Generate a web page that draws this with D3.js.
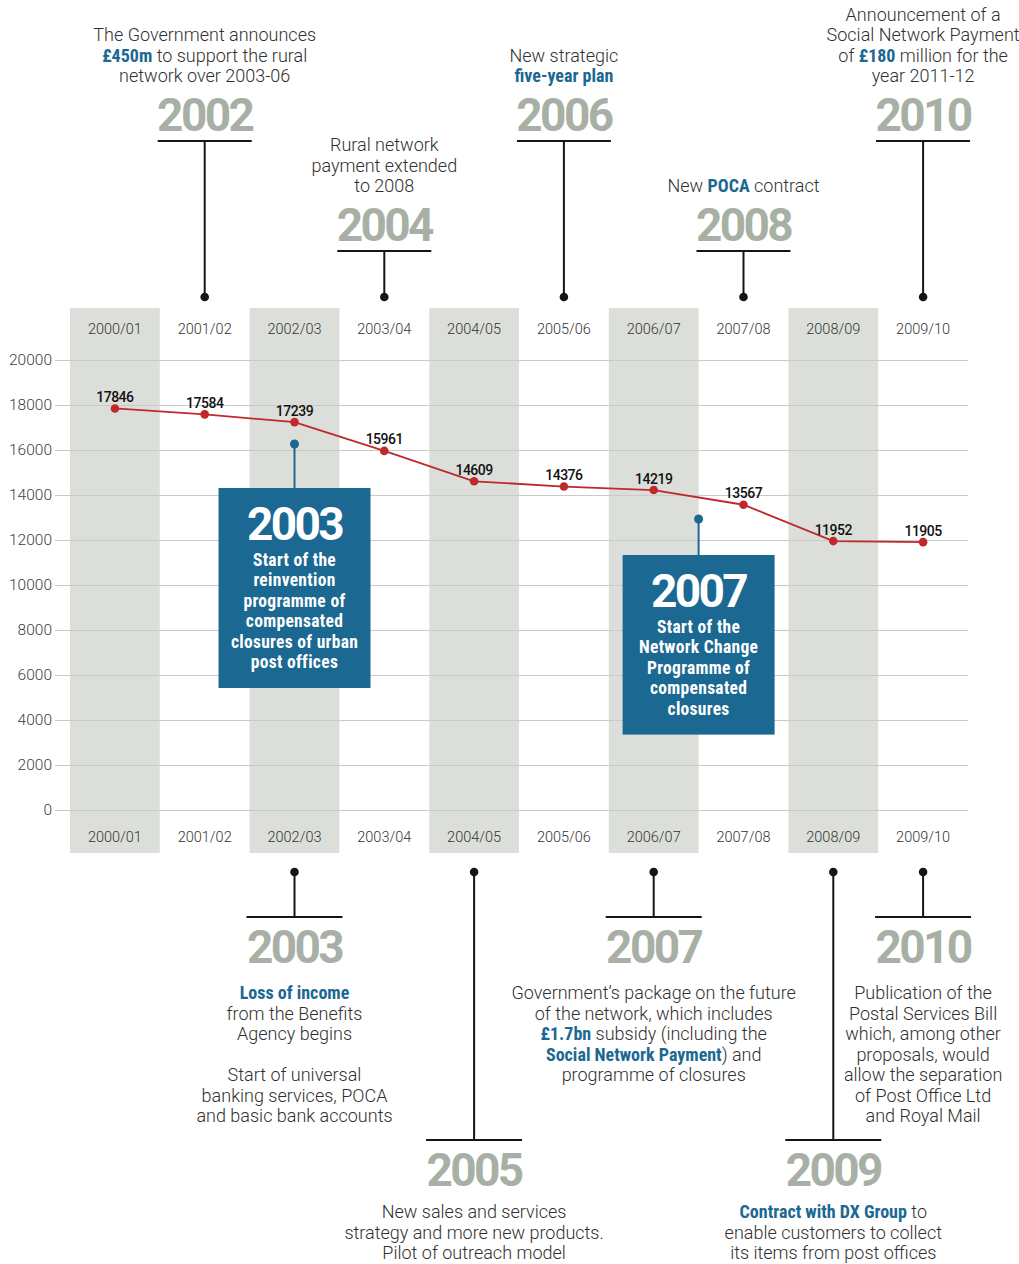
<!DOCTYPE html>
<html>
<head>
<meta charset="utf-8">
<script src="https://cdn.jsdelivr.net/npm/d3@7"></script>
<style>
  body { margin: 0; background: #fff; }
  svg { display: block; }
</style>
</head>
<body>
<svg id="chart" width="1019" height="1264"></svg>
<script>
// Number of post offices by financial year
const categories = ["2000/01", "2001/02", "2002/03", "2003/04", "2004/05",
                    "2005/06", "2006/07", "2007/08", "2008/09", "2009/10"];
const postOffices = [17846, 17584, 17239, 15961, 14609, 14376, 14219, 13567, 11952, 11905];
const yTickValues = [0, 2000, 4000, 6000, 8000, 10000, 12000, 14000, 16000, 18000, 20000];

// Timeline notes above the chart (text in **…** is highlighted)
const topYears = ["2002", "2004", "2006", "2008", "2010"];
const topAnchors = ["2001/02", "2003/04", "2005/06", "2007/08", "2009/10"];
const topTexts = [
  ["The Government announces", "**£450m** to support the rural", "network over 2003-06"],
  ["Rural network", "payment extended", "to 2008"],
  ["New strategic", "**five-year plan**"],
  ["New **POCA** contract"],
  ["Announcement of a", "Social Network Payment", "of **£180** million for the", "year 2011-12"]
];

// Timeline notes below the chart
const bottomYears = ["2003", "2005", "2007", "2009", "2010"];
const bottomAnchors = ["2002/03", "2004/05", "2006/07", "2008/09", "2009/10"];
const bottomTexts = [
  ["**Loss of income**", "from the Benefits", "Agency begins", "", "Start of universal",
   "banking services, POCA", "and basic bank accounts"],
  ["New sales and services", "strategy and more new products.", "Pilot of outreach model"],
  ["Government’s package on the future", "of the network, which includes",
   "**£1.7bn** subsidy (including the", "**Social Network Payment**) and", "programme of closures"],
  ["**Contract with DX Group** to", "enable customers to collect", "its items from post offices"],
  ["Publication of the", "Postal Services Bill", "which, among other", "proposals, would",
   "allow the separation", "of Post Office Ltd", "and Royal Mail"]
];

// Closure programmes shown as callout boxes on the chart
const boxYears = ["2003", "2007"];
const boxAnchors = ["2002/03", "2006/07"];
const boxTexts = [
  ["Start of the", "reinvention", "programme of", "compensated", "closures of urban", "post offices"],
  ["Start of the", "Network Change", "Programme of", "compensated", "closures"]
];

// ---- styling and layout ----
const BODY_FONT = "Roboto, 'Open Sans', sans-serif";
const COND_FONT = "'Roboto Condensed', 'Liberation Sans Narrow', 'DejaVu Sans Condensed', Roboto, sans-serif";
const BLUE = "#1b6892";
const TEXT = "#303030";
const YEAR_GREY = "#a8b0a5";
const BAND = "#dcdfd9";
const GRID = "#c9cbc8";
const RED = "#c0282b";
const INK = "#151515";

const svg = d3.select("#chart");

const x = d3.scaleBand().domain(categories).range([70, 968]).padding(0);
const y = d3.scaleLinear().domain([0, 20000]).range([810, 360]);
const cx = c => x(c) + x.bandwidth() / 2;

const bandTop = 308, bandBottom = 853;

// alternating shaded columns
svg.append("g")
  .selectAll("rect")
  .data(categories.filter((c, i) => i % 2 === 0))
  .join("rect")
  .attr("x", d => x(d))
  .attr("width", x.bandwidth())
  .attr("y", bandTop)
  .attr("height", bandBottom - bandTop)
  .attr("fill", BAND);

// y axis with gridlines
const yAxis = svg.append("g")
  .attr("transform", "translate(55,0)")
  .call(d3.axisLeft(y).tickValues(yTickValues).tickFormat(d3.format("d"))
        .tickSize(-(968 - 55)).tickPadding(3));
yAxis.select(".domain").remove();
yAxis.selectAll(".tick line").attr("stroke", GRID).attr("stroke-width", 1);
yAxis.selectAll(".tick text")
  .attr("fill", "#404040")
  .attr("font-family", BODY_FONT)
  .attr("font-size", 15.5)
  .attr("font-weight", 300);

// category labels above and below
function styleCatAxis(g) {
  g.select(".domain").remove();
  g.selectAll(".tick line").remove();
  g.selectAll(".tick text")
    .attr("dy", 0)
    .attr("y", 0)
    .attr("fill", "#333")
    .attr("font-family", BODY_FONT)
    .attr("font-size", 14.5)
    .attr("font-weight", 300);
}
svg.append("g").attr("transform", "translate(0,334)")
  .call(d3.axisTop(x).tickSize(0).tickPadding(0)).call(styleCatAxis);
svg.append("g").attr("transform", "translate(0,842)")
  .call(d3.axisBottom(x).tickSize(0).tickPadding(0)).call(styleCatAxis);

// series
const series = categories.map((c, i) => ({ cat: c, v: postOffices[i] }));
svg.append("path")
  .datum(series)
  .attr("fill", "none")
  .attr("stroke", RED)
  .attr("stroke-width", 1.8)
  .attr("d", d3.line().x(d => cx(d.cat)).y(d => y(d.v)));

svg.append("g").selectAll("circle")
  .data(series).join("circle")
  .attr("cx", d => cx(d.cat))
  .attr("cy", d => y(d.v))
  .attr("r", 4.3)
  .attr("fill", RED);

svg.append("g").selectAll("text")
  .data(series).join("text")
  .attr("x", d => cx(d.cat))
  .attr("y", d => y(d.v) - 6.5)
  .attr("text-anchor", "middle")
  .attr("font-family", BODY_FONT)
  .attr("font-size", 14)
  .attr("font-weight", 500)
  .attr("letter-spacing", -0.5)
  .attr("fill", "#111")
  .text(d => d.v);

// rich text: **…** parts become bold blue condensed
function richLine(sel, str, color) {
  const parts = str.split(/(\*\*[^*]+\*\*)/).filter(p => p.length);
  parts.forEach(p => {
    const hi = p.startsWith("**");
    sel.append("tspan")
      .attr("font-family", hi ? COND_FONT : BODY_FONT)
      .attr("font-weight", hi ? 700 : 300)
      .attr("fill", hi ? BLUE : color)
      .text(hi ? p.slice(2, -2) : p);
  });
}

const LINE = 20.5;

function yearText(g, xPos, yPos, year, fill) {
  g.append("text")
    .attr("x", xPos).attr("y", yPos)
    .attr("text-anchor", "middle")
    .attr("font-family", BODY_FONT)
    .attr("font-weight", 700)
    .attr("font-size", 46)
    .attr("letter-spacing", -2.6)
    .attr("fill", fill)
    .text(year);
}

function pin(g, xPos, ruleY, dotY, halfWidth) {
  g.append("line").attr("x1", xPos - halfWidth).attr("x2", xPos + halfWidth)
    .attr("y1", ruleY).attr("y2", ruleY).attr("stroke", INK).attr("stroke-width", 2);
  g.append("line").attr("x1", xPos).attr("x2", xPos)
    .attr("y1", ruleY).attr("y2", dotY).attr("stroke", INK).attr("stroke-width", 2);
  g.append("circle").attr("cx", xPos).attr("cy", dotY).attr("r", 4.3).attr("fill", INK);
}

// notes above: alternating rule heights
const topRule = [141, 251];
const topNotes = svg.append("g");
topYears.forEach((yr, i) => {
  const xp = cx(topAnchors[i]);
  const ruleY = topRule[i % 2];
  const g = topNotes.append("g");
  pin(g, xp, ruleY, 297, 47);
  yearText(g, xp, ruleY - 10, yr, YEAR_GREY);
  const lines = topTexts[i];
  lines.forEach((ln, j) => {
    const t = g.append("text")
      .attr("x", xp)
      .attr("y", ruleY - 59 - (lines.length - 1 - j) * LINE)
      .attr("text-anchor", "middle")
      .attr("font-size", 18);
    richLine(t, ln, TEXT);
  });
});

// notes below: short and long stems
const bottomRule = [917, 1140];
const bottomTextGap = [82, 78];
const bottomLevel = [0, 1, 0, 1, 0];
const bottomNotes = svg.append("g");
bottomYears.forEach((yr, i) => {
  const xp = cx(bottomAnchors[i]);
  const lvl = bottomLevel[i];
  const ruleY = bottomRule[lvl];
  const g = bottomNotes.append("g");
  pin(g, xp, ruleY, 872, 48);
  yearText(g, xp, ruleY + 46, yr, YEAR_GREY);
  bottomTexts[i].forEach((ln, j) => {
    if (!ln) return;
    const t = g.append("text")
      .attr("x", xp)
      .attr("y", ruleY + bottomTextGap[lvl] + j * LINE)
      .attr("text-anchor", "middle")
      .attr("font-size", 18);
    richLine(t, ln, TEXT);
  });
});

// callout boxes
const boxX = [cx(boxAnchors[0]), x(boxAnchors[1]) + x.bandwidth()];
const boxDotY = [444, 519];
const boxTop = [488, 555];
const boxes = svg.append("g");
boxYears.forEach((yr, i) => {
  const g = boxes.append("g");
  const xp = boxX[i];
  const lines = boxTexts[i];
  const h = 78 + (lines.length - 1) * 20.4 + 20;
  g.append("line").attr("x1", xp).attr("x2", xp)
    .attr("y1", boxDotY[i]).attr("y2", boxTop[i])
    .attr("stroke", BLUE).attr("stroke-width", 2);
  g.append("circle").attr("cx", xp).attr("cy", boxDotY[i]).attr("r", 4.5).attr("fill", BLUE);
  g.append("rect").attr("x", xp - 76).attr("width", 152)
    .attr("y", boxTop[i]).attr("height", h).attr("fill", BLUE);
  yearText(g, xp, boxTop[i] + 52, yr, "#fff");
  lines.forEach((ln, j) => {
    g.append("text")
      .attr("x", xp)
      .attr("y", boxTop[i] + 78 + j * 20.4)
      .attr("text-anchor", "middle")
      .attr("font-family", COND_FONT)
      .attr("font-weight", 700)
      .attr("font-size", 17.5)
      .attr("letter-spacing", 0.3)
      .attr("fill", "#fff")
      .text(ln);
  });
});
</script>
</body>
</html>
